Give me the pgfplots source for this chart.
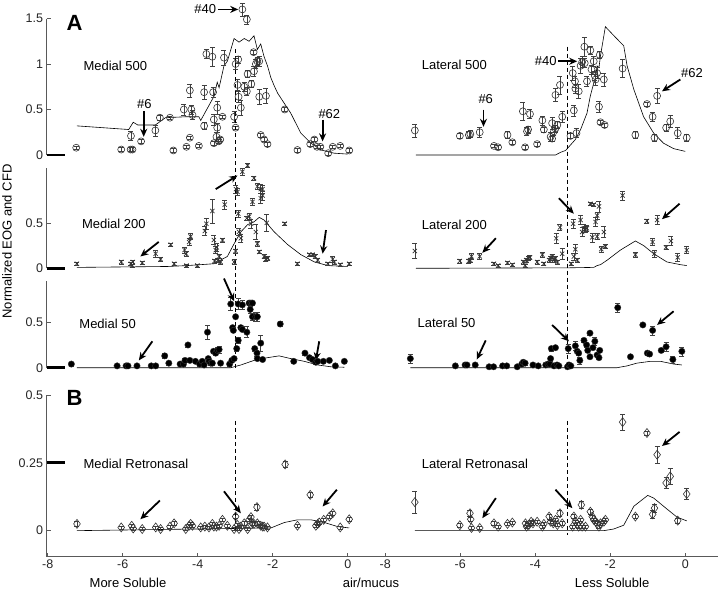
\documentclass[border=0pt]{standalone}
\usepackage{fontspec}
\setmainfont{Liberation Sans}
\usepackage{pgfplots}
\usepackage{pgfplotstable}
\pgfplotsset{compat=1.18}
\usetikzlibrary{arrows.meta}

% ---------- medial / lateral 500 ----------
\pgfplotstableread{
x y e
-7.24 0.08 0.02
-6.04 0.06 0.02
-5.79 0.06 0.02
-5.74 0.06 0.02
-5.78 0.21 0.05
-5.51 0.15 0.02
-5.13 0.27 0.06
-5.01 0.41 0.03
-4.74 0.41 0.02
-4.65 0.05 0.02
-4.37 0.50 0.06
-4.30 0.09 0.02
-4.21 0.71 0.07
-4.21 0.19 0.02
-4.17 0.50 0.05
-4.14 0.44 0.05
-3.97 0.10 0.02
-3.83 0.32 0.04
-3.83 0.69 0.08
-3.77 1.11 0.05
-3.61 1.08 0.10
-3.59 0.69 0.05
-3.57 0.39 0.06
-3.57 0.13 0.02
-3.50 0.20 0.05
-3.48 0.30 0.05
-3.48 0.52 0.07
-3.44 0.15 0.02
-3.40 0.17 0.02
-3.34 0.42 0.02
-3.30 1.07 0.08
-3.03 0.42 0.06
-2.99 0.30 0.02
-2.99 1.00 0.06
-2.92 1.05 0.04
-2.94 0.77 0.06
-2.91 0.64 0.06
-2.85 0.52 0.08
-2.81 1.60 0.07
-2.69 1.49 0.05
-2.76 0.75 0.05
-2.69 0.70 0.04
-2.67 0.89 0.04
-2.57 0.78 0.04
-2.51 1.13 0.02
-2.50 0.92 0.06
-2.45 1.00 0.05
-2.41 1.03 0.04
-2.36 1.03 0.05
-2.36 0.64 0.08
-2.32 0.22 0.02
-2.23 0.17 0.02
-2.14 0.12 0.02
-2.18 0.65 0.08
-1.68 0.50 0.02
-1.34 0.055 0.02
-1.00 0.12 0.02
-0.89 0.17 0.02
-0.82 0.09 0.02
-0.73 0.09 0.02
-0.52 0.02 0.02
-0.40 0.09 0.02
-0.20 0.10 0.02
0.04 0.05 0.02
}\ptsMa
\pgfplotstableread{
x y
-7.22 0.32
-5.84 0.28
-5.72 0.36
-5.60 0.33
-5.13 0.33
-4.86 0.41
-4.33 0.42
-3.97 0.42
-3.92 0.38
-3.56 0.65
-3.48 0.80
-3.43 0.74
-3.30 0.98
-3.21 1.03
-3.03 1.28
-2.90 1.24
-2.76 1.28
-2.63 1.25
-2.50 1.31
-2.41 1.16
-2.32 1.22
-2.23 1.08
-2.14 0.98
-2.05 0.85
-1.96 0.76
-1.87 0.68
-1.52 0.46
-1.25 0.24
-0.98 0.13
-0.71 0.055
-0.36 0.02
0.00 0.01
}\curMa
\pgfplotstableread{
x y e
-7.21 0.27 0.07
-6.01 0.21 0.03
-5.77 0.22 0.04
-5.73 0.23 0.04
-5.48 0.25 0.05
-5.10 0.10 0.02
-4.99 0.085 0.02
-4.74 0.22 0.04
-4.61 0.14 0.02
-4.33 0.48 0.10
-4.27 0.085 0.02
-4.22 0.26 0.04
-4.19 0.28 0.04
-4.14 0.45 0.05
-3.95 0.12 0.02
-3.81 0.38 0.05
-3.77 0.28 0.03
-3.59 0.20 0.05
-3.55 0.35 0.07
-3.55 0.18 0.03
-3.50 0.26 0.04
-3.46 0.29 0.04
-3.41 0.33 0.04
-3.46 0.66 0.07
-3.34 0.77 0.10
-3.28 0.42 0.06
-3.06 0.21 0.03
-3.00 0.90 0.08
-2.97 0.49 0.06
-2.94 0.81 0.06
-2.93 0.73 0.05
-2.90 0.24 0.05
-2.84 0.70 0.08
-2.79 0.98 0.08
-2.75 1.02 0.06
-2.69 1.19 0.10
-2.68 1.01 0.05
-2.62 0.81 0.05
-2.53 1.15 0.04
-2.50 0.94 0.05
-2.44 1.03 0.06
-2.41 0.87 0.05
-2.39 0.83 0.06
-2.35 0.90 0.06
-2.30 0.53 0.06
-2.28 1.10 0.04
-2.26 0.36 0.02
-2.15 0.33 0.02
-2.17 0.83 0.07
-1.67 0.95 0.10
-1.33 0.22 0.04
-1.02 0.56 0.02
-0.87 0.42 0.05
-0.82 0.19 0.04
-0.75 0.65 0.08
-0.51 0.30 0.04
-0.40 0.37 0.07
-0.20 0.24 0.06
0.04 0.19 0.04
}\ptsLa
\pgfplotstableread{
x y
-7.18 0
-3.46 0
-3.32 0.03
-3.19 0.05
-3.06 0.11
-2.93 0.17
-2.79 0.28
-2.62 0.46
-2.53 0.65
-2.44 0.79
-2.39 0.85
-2.35 0.98
-2.30 0.96
-2.26 1.09
-2.17 1.31
-2.13 1.41
-1.90 1.31
-1.64 1.20
-1.55 0.98
-1.37 0.72
-1.11 0.42
-0.84 0.24
-0.58 0.13
-0.31 0.07
0.00 0.04
}\curLa

% ---------- medial / lateral 200 ----------
\pgfplotstableread{
x y e
-7.22 0.05 0.02
-6.04 0.07 0.02
-5.78 0.05 0.02
-5.75 0.03 0.02
-5.73 0.07 0.02
-5.48 0.06 0.02
-5.12 0.16 0.04
-4.99 0.10 0.02
-4.72 0.26 0.02
-4.63 0.05 0.02
-4.35 0.20 0.03
-4.31 0.16 0.03
-4.30 0.03 0.02
-4.23 0.29 0.04
-4.19 0.35 0.03
-4.01 0.03 0.02
-3.81 0.41 0.05
-3.77 0.49 0.06
-3.61 0.63 0.13
-3.57 0.31 0.05
-3.55 0.08 0.02
-3.52 0.20 0.04
-3.49 0.23 0.04
-3.46 0.09 0.02
-3.43 0.13 0.02
-3.39 0.07 0.02
-3.34 0.31 0.02
-3.28 0.70 0.05
-3.03 0.07 0.03
-2.99 0.19 0.02
-2.98 0.87 0.04
-2.94 0.84 0.04
-2.92 0.60 0.04
-2.90 0.40 0.04
-2.85 0.33 0.04
-2.81 1.06 0.04
-2.67 1.13 0.02
-2.69 0.55 0.02
-2.63 0.57 0.04
-2.58 0.49 0.05
-2.54 0.73 0.04
-2.50 0.99 0.02
-2.45 0.40 0.08
-2.41 0.27 0.03
-2.36 0.18 0.02
-2.41 0.90 0.03
-2.32 0.87 0.05
-2.27 0.87 0.04
-2.27 0.80 0.05
-2.32 0.77 0.06
-2.23 0.13 0.02
-2.18 0.10 0.02
-2.13 0.11 0.02
-2.16 0.50 0.09
-1.68 0.49 0.02
-1.34 0.05 0.02
-1.02 0.15 0.02
-0.94 0.15 0.02
-0.87 0.13 0.02
-0.80 0.09 0.02
-0.53 0.05 0.02
-0.40 0.10 0.03
-0.36 0.07 0.02
-0.20 0.04 0.02
0.04 0.05 0.02
}\ptsMb
\pgfplotstableread{
x y
-7.22 0.01
-4.81 0.02
-4.28 0.03
-3.57 0.05
-3.21 0.13
-3.03 0.27
-2.85 0.40
-2.67 0.48
-2.50 0.51
-2.36 0.56
-2.23 0.53
-1.96 0.40
-1.60 0.26
-1.25 0.15
-0.89 0.07
-0.53 0.03
0.00 0.02
}\curMb
\pgfplotstableread{
x y e
-7.21 0.19 0.08
-6.01 0.08 0.02
-5.77 0.08 0.02
-5.73 0.09 0.02
-5.70 0.13 0.03
-5.48 0.13 0.03
-5.10 0.05 0.02
-4.99 0.03 0.02
-4.74 0.06 0.02
-4.61 0.04 0.02
-4.32 0.07 0.02
-4.27 0.03 0.02
-4.24 0.09 0.02
-4.18 0.11 0.02
-4.14 0.12 0.02
-3.95 0.07 0.02
-3.81 0.15 0.03
-3.77 0.05 0.02
-3.63 0.09 0.02
-3.59 0.11 0.02
-3.55 0.13 0.02
-3.50 0.09 0.02
-3.46 0.11 0.02
-3.41 0.07 0.02
-3.44 0.33 0.05
-3.34 0.45 0.03
-3.28 0.16 0.06
-3.04 0.05 0.02
-2.99 0.49 0.05
-2.97 0.13 0.04
-2.93 0.21 0.05
-2.88 0.09 0.02
-2.79 0.53 0.05
-2.75 0.40 0.05
-2.70 0.44 0.04
-2.66 0.43 0.03
-2.62 0.44 0.03
-2.53 0.71 0.02
-2.44 0.70 0.02
-2.39 0.51 0.05
-2.35 0.58 0.04
-2.30 0.68 0.06
-2.48 0.34 0.05
-2.35 0.35 0.03
-2.17 0.40 0.06
-2.24 0.21 0.03
-2.13 0.24 0.02
-1.67 0.80 0.05
-1.33 0.15 0.03
-1.02 0.52 0.02
-0.87 0.29 0.04
-0.82 0.16 0.04
-0.75 0.53 0.05
-0.51 0.23 0.02
-0.38 0.30 0.05
-0.20 0.12 0.04
0.04 0.20 0.04
}\ptsLb
\pgfplotstableread{
x y
-7.18 0
-3.15 0.005
-2.44 0.01
-2.35 0.03
-2.26 0.04
-2.08 0.09
-1.73 0.20
-1.33 0.30
-1.11 0.25
-0.84 0.16
-0.49 0.07
-0.13 0.04
0.04 0.03
}\curLb

% ---------- medial / lateral 50 ----------
\pgfplotstableread{
x y e
-7.37 0.04 0.02
-6.15 0.02 0.02
-5.91 0.02 0.02
-5.86 0.02 0.02
-5.62 0.02 0.02
-5.24 0.02 0.02
-5.12 0.02 0.02
-4.88 0.13 0.03
-4.77 0.05 0.02
-4.47 0.04 0.02
-4.38 0.04 0.02
-4.34 0.08 0.02
-4.26 0.25 0.02
-4.21 0.08 0.02
-4.06 0.07 0.02
-3.95 0.04 0.02
-3.88 0.07 0.02
-3.83 0.03 0.02
-3.74 0.39 0.08
-3.72 0.10 0.02
-3.70 0.07 0.02
-3.65 0.05 0.02
-3.61 0.05 0.02
-3.58 0.18 0.02
-3.52 0.16 0.02
-3.47 0.19 0.03
-3.43 0.20 0.04
-3.39 0.05 0.02
-3.15 0.04 0.02
-3.12 0.70 0.07
-3.09 0.08 0.02
-3.07 0.44 0.02
-3.05 0.41 0.02
-3.03 0.10 0.02
-2.99 0.56 0.02
-2.96 0.21 0.03
-2.92 0.30 0.03
-2.92 0.70 0.06
-2.85 0.44 0.02
-2.81 0.42 0.02
-2.81 0.69 0.05
-2.69 0.39 0.06
-2.63 0.71 0.02
-2.58 0.71 0.02
-2.54 0.71 0.02
-2.60 0.64 0.04
-2.54 0.56 0.04
-2.45 0.56 0.05
-2.41 0.56 0.05
-2.48 0.21 0.03
-2.42 0.16 0.03
-2.41 0.10 0.02
-2.32 0.27 0.09
-2.27 0.09 0.02
-1.80 0.48 0.03
-1.44 0.07 0.02
-1.14 0.16 0.02
-1.02 0.11 0.02
-0.94 0.09 0.02
-0.85 0.06 0.02
-0.80 0.07 0.02
-0.65 0.07 0.02
-0.49 0.08 0.02
-0.33 0.02 0.02
-0.09 0.07 0.02
}\ptsMc
\pgfplotstableread{
x y
-7.22 0
-3.12 0
-2.85 0.03
-2.50 0.08
-2.14 0.11
-1.83 0.13
-1.52 0.10
-1.16 0.07
-0.80 0.03
-0.45 0.01
-0.09 0.005
}\curMc
\pgfplotstableread{
x y e
-7.33 0.10 0.05
-6.13 0.02 0.02
-5.87 0.03 0.02
-5.82 0.03 0.02
-5.60 0.03 0.02
-5.23 0.01 0.02
-5.11 0.01 0.02
-4.87 0.02 0.02
-4.76 0.02 0.02
-4.48 0.01 0.02
-4.36 0.04 0.02
-4.32 0.06 0.02
-4.27 0.05 0.02
-4.06 0.03 0.02
-3.92 0.02 0.02
-3.72 0.03 0.02
-3.66 0.04 0.02
-3.61 0.04 0.02
-3.59 0.10 0.03
-3.57 0.21 0.03
-3.46 0.22 0.02
-3.50 0.02 0.02
-3.42 0.03 0.02
-3.37 0.02 0.02
-3.14 0.01 0.02
-3.10 0.03 0.02
-3.05 0.02 0.02
-3.12 0.21 0.05
-2.93 0.24 0.05
-2.88 0.18 0.02
-2.84 0.16 0.02
-2.81 0.08 0.04
-2.70 0.30 0.02
-2.63 0.25 0.02
-2.54 0.38 0.02
-2.60 0.19 0.02
-2.54 0.12 0.02
-2.46 0.22 0.02
-2.41 0.29 0.04
-2.35 0.14 0.02
-2.30 0.11 0.02
-2.28 0.19 0.02
-1.80 0.66 0.05
-1.46 0.12 0.02
-1.13 0.47 0.02
-1.01 0.16 0.02
-0.95 0.15 0.02
-0.87 0.41 0.05
-0.64 0.19 0.02
-0.51 0.23 0.05
-0.33 0.09 0.04
-0.09 0.18 0.05
}\ptsLc
\pgfplotstableread{
x y
-7.33 0
-1.82 0
-1.55 0.02
-1.29 0.05
-0.93 0.07
-0.66 0.07
-0.31 0.04
-0.09 0.03
}\curLc

% ---------- retronasal ----------
\pgfplotstableread{
x y e
-7.22 0.025 0.008
-6.04 0.012 0.006
-5.76 0.018 0.006
-5.72 0.008 0.006
-5.48 0.006 0.006
-5.12 0.012 0.006
-4.99 0.006 0.006
-4.74 0.015 0.006
-4.63 0.027 0.008
-4.32 0.006 0.006
-4.23 0.018 0.006
-4.19 0.025 0.006
-4.14 0.018 0.006
-3.92 0.012 0.006
-3.81 0.015 0.006
-3.70 0.012 0.006
-3.61 0.025 0.006
-3.57 0.015 0.006
-3.50 0.015 0.006
-3.43 0.018 0.006
-3.34 0.040 0.006
-3.21 0.018 0.006
-3.03 0.006 0.006
-2.99 0.052 0.008
-2.94 0.021 0.006
-2.90 0.006 0.006
-2.85 0.015 0.006
-2.76 0.027 0.006
-2.67 0.006 0.006
-2.63 0.040 0.006
-2.58 0.050 0.008
-2.54 0.027 0.006
-2.50 0.025 0.006
-2.42 0.087 0.010
-2.41 0.027 0.006
-2.32 0.018 0.006
-2.27 0.015 0.006
-2.23 0.015 0.006
-2.14 0.012 0.006
-1.67 0.244 0.010
-1.34 0.018 0.006
-1.00 0.132 0.008
-0.85 0.018 0.006
-0.80 0.025 0.006
-0.76 0.030 0.006
-0.64 0.040 0.006
-0.49 0.052 0.006
-0.40 0.064 0.008
-0.20 0.012 0.006
0.04 0.042 0.008
}\ptsMr
\pgfplotstableread{
x y
-7.22 0
-2.05 0.01
-1.69 0.03
-1.34 0.04
-0.98 0.04
-0.62 0.03
-0.27 0.015
0.04 0.01
}\curMr
\pgfplotstableread{
x y e
-7.21 0.105 0.040
-6.01 0.020 0.006
-5.74 0.064 0.012
-5.72 0.042 0.006
-5.70 0.010 0.006
-5.48 0.010 0.006
-5.10 0.027 0.006
-4.99 0.015 0.006
-4.74 0.025 0.006
-4.61 0.030 0.006
-4.26 0.027 0.006
-4.23 0.015 0.006
-4.17 0.021 0.006
-4.11 0.033 0.006
-4.06 0.027 0.006
-3.95 0.033 0.006
-3.81 0.015 0.006
-3.77 0.025 0.006
-3.63 0.052 0.010
-3.59 0.033 0.006
-3.52 0.027 0.006
-3.46 0.040 0.006
-3.41 0.021 0.006
-3.34 0.064 0.010
-3.28 0.027 0.006
-3.00 0.015 0.006
-2.97 0.052 0.008
-2.93 0.033 0.006
-2.88 0.025 0.006
-2.84 0.015 0.006
-2.79 0.040 0.006
-2.77 0.095 0.012
-2.75 0.015 0.006
-2.66 0.015 0.006
-2.53 0.070 0.010
-2.48 0.052 0.006
-2.44 0.040 0.006
-2.39 0.033 0.006
-2.35 0.027 0.006
-2.30 0.015 0.006
-2.26 0.027 0.006
-2.17 0.033 0.006
-2.13 0.040 0.006
-1.67 0.400 0.030
-1.33 0.052 0.008
-1.02 0.360 0.008
-0.87 0.060 0.015
-0.82 0.083 0.015
-0.75 0.280 0.030
-0.51 0.176 0.020
-0.40 0.200 0.030
-0.20 0.037 0.008
0.04 0.135 0.020
}\ptsLr
\pgfplotstableread{
x y
-7.21 0
-2.17 0
-1.91 0.006
-1.64 0.02
-1.37 0.09
-1.00 0.13
-0.84 0.12
-0.49 0.08
-0.22 0.05
0.04 0.036
}\curLr

\newcommand\lbl{\fontsize{13}{15}\selectfont}
\pgfplotsset{
  row/.style={scale only axis, width=671.25pt, xmin=-8.03, xmax=9.87, clip=false,
    axis line style={black!65, line width=0.6pt},
    tick align=inside, major tick length=4pt,
    major tick style={black!65, line width=0.6pt},
    tick label style={font=\fontsize{12.5}{14}\selectfont, text=black!85},
    /pgf/number format/assume math mode=true,
    extra y tick style={major tick length=18pt, major tick style={line width=2.8pt, black}}},
  toprow/.style={row, axis x line=none, axis y line*=left},
  curve/.style={black, line width=0.6pt, no marks},
  pts/.style={only marks, black!80,
    error bars/y dir=both, error bars/y explicit,
    error bars/error bar style={line width=0.5pt, black!75},
    error bars/error mark options={rotate=90, mark size=2.5pt, line width=0.5pt, black!75}},
}
\tikzset{
  arr/.style={-{Stealth[length=8pt,width=7pt]}, line width=1.8pt, black},
  dsh/.style={line width=1pt, dash pattern=on 4pt off 3pt},
}

\begin{document}
\begin{tikzpicture}
\useasboundingbox (0,0) rectangle (720pt,590pt);

% ===== row 1: 500 =====
\begin{axis}[toprow, at={(46.6pt,435pt)}, anchor=south west, height=136.5pt,
  ymin=0, ymax=1.5, ytick={0.5,1,1.5}, extra y ticks={0}]
\addplot[curve] table[x=x,y=y] {\curMa};
\addplot[curve] table[x expr=\thisrow{x}+9,y=y] {\curLa};
\addplot[pts, mark=o, mark size=3.5pt, mark options={line width=0.6pt}] table[x=x, y=y, y error=e] {\ptsMa};
\addplot[pts, mark=o, mark size=3.5pt, mark options={line width=0.6pt}] table[x expr=\thisrow{x}+9, y=y, y error=e] {\ptsLa};
\draw[dsh] (axis cs:-3,1.16) -- (axis cs:-3,-2.36);
\draw[dsh] (axis cs:5.85,1.19) -- (axis cs:5.85,-2.36);
\node[anchor=west, font=\bfseries\fontsize{22}{24}\selectfont, inner sep=0pt] at (axis cs:-7.5,1.45) {A};
\node[anchor=west, font=\lbl, inner sep=0pt] at (axis cs:-7.05,0.98) {Medial 500};
\node[anchor=west, font=\lbl, inner sep=0pt] at (axis cs:1.97,0.99) {Lateral 500};
\node[anchor=east, font=\lbl, inner sep=1pt] at (axis cs:-3.48,1.6) {\#40};
\draw[arr] (axis cs:-3.46,1.6) -- (axis cs:-2.92,1.6);
\node[font=\lbl] at (axis cs:-5.42,0.56) {\#6};
\draw[arr] (axis cs:-5.44,0.48) -- (axis cs:-5.44,0.20);
\node[font=\lbl] at (axis cs:-0.49,0.45) {\#62};
\draw[arr] (axis cs:-0.67,0.39) -- (axis cs:-0.67,0.15);
\node[anchor=east, font=\lbl, inner sep=1pt] at (axis cs:5.6,1.03) {\#40};
\draw[arr] (axis cs:5.62,1.03) -- (axis cs:6.12,1.03);
\node[font=\lbl] at (axis cs:3.68,0.62) {\#6};
\draw[arr] (axis cs:3.62,0.50) -- (axis cs:3.62,0.31);
\node[font=\lbl] at (axis cs:9.18,0.90) {\#62};
\draw[arr] (axis cs:8.87,0.83) -- (axis cs:8.38,0.70);
\end{axis}

% ===== row 2: 200 =====
\begin{axis}[toprow, at={(46.6pt,321.7pt)}, anchor=south west, height=100.1pt,
  ymin=0, ymax=1.1, ytick={0.5}, extra y ticks={0}]
\addplot[curve] table[x=x,y=y] {\curMb};
\addplot[curve] table[x expr=\thisrow{x}+9,y=y] {\curLb};
\addplot[pts, mark=x, mark size=3pt, mark options={line width=0.7pt}] table[x=x, y=y, y error=e] {\ptsMb};
\addplot[pts, mark=x, mark size=3pt, mark options={line width=0.7pt}] table[x expr=\thisrow{x}+9, y=y, y error=e] {\ptsLb};
\node[anchor=west, font=\lbl, inner sep=0pt] at (axis cs:-7.09,0.49) {Medial 200};
\node[anchor=west, font=\lbl, inner sep=0pt] at (axis cs:1.97,0.48) {Lateral 200};
\draw[arr] (axis cs:-5.04,0.29) -- (axis cs:-5.53,0.13);
\draw[arr] (axis cs:-3.52,0.87) -- (axis cs:-2.94,1.02);
\draw[arr] (axis cs:-0.58,0.42) -- (axis cs:-0.67,0.16);
\draw[arr] (axis cs:3.95,0.33) -- (axis cs:3.59,0.17);
\draw[arr] (axis cs:5.63,0.77) -- (axis cs:6.03,0.60);
\draw[arr] (axis cs:8.85,0.71) -- (axis cs:8.38,0.54);
\end{axis}

% ===== row 3: 50 =====
\begin{axis}[toprow, at={(46.6pt,222.3pt)}, anchor=south west, height=86.45pt,
  ymin=0, ymax=0.95, ytick={0.5}, extra y ticks={0}]
\addplot[curve] table[x=x,y=y] {\curMc};
\addplot[curve] table[x expr=\thisrow{x}+9,y=y] {\curLc};
\addplot[pts, mark=*, mark size=3.2pt, mark options={fill=black}] table[x=x, y=y, y error=e] {\ptsMc};
\addplot[pts, mark=*, mark size=3.2pt, mark options={fill=black}] table[x expr=\thisrow{x}+9, y=y, y error=e] {\ptsLc};
\node[anchor=west, font=\lbl, inner sep=0pt] at (axis cs:-7.16,0.48) {Medial 50};
\node[anchor=west, font=\lbl, inner sep=0pt] at (axis cs:1.86,0.49) {Lateral 50};
\draw[arr] (axis cs:-5.21,0.29) -- (axis cs:-5.57,0.08);
\draw[arr] (axis cs:-3.30,0.98) -- (axis cs:-3.03,0.73);
\draw[arr] (axis cs:-0.76,0.29) -- (axis cs:-0.85,0.08);
\draw[arr] (axis cs:3.68,0.30) -- (axis cs:3.44,0.09);
\draw[arr] (axis cs:5.45,0.47) -- (axis cs:5.90,0.29);
\draw[arr] (axis cs:8.69,0.62) -- (axis cs:8.25,0.47);
\end{axis}

% ===== row 4: retronasal =====
\begin{axis}[row, at={(46.6pt,33.3pt)}, anchor=south west, height=161.7pt,
  axis x line*=bottom, axis y line*=left,
  ymin=-0.096, ymax=0.5, ytick={0,0.5}, extra y ticks={0.25},
  extra y tick labels={0.25},
  xtick={-8,-6,-4,-2,0,1,3,5,7,9},
  xticklabels={-8,-6,-4,-2,0,-8,-6,-4,-2,0}]
\addplot[curve] table[x=x,y=y] {\curMr};
\addplot[curve] table[x expr=\thisrow{x}+9,y=y] {\curLr};
\addplot[pts, mark=diamond, mark size=4.5pt, mark options={line width=0.6pt}] table[x=x, y=y, y error=e] {\ptsMr};
\addplot[pts, mark=diamond, mark size=4.5pt, mark options={line width=0.6pt}] table[x expr=\thisrow{x}+9, y=y, y error=e] {\ptsLr};
\draw[dsh] (axis cs:-3,0.405) -- (axis cs:-3,0);
\draw[dsh] (axis cs:5.85,0.405) -- (axis cs:5.85,-0.015);
\node[anchor=west, font=\bfseries\fontsize{22}{24}\selectfont, inner sep=0pt] at (axis cs:-7.5,0.489) {B};
\node[anchor=west, font=\lbl, inner sep=0pt] at (axis cs:-7.05,0.248) {Medial Retronasal};
\node[anchor=west, font=\lbl, inner sep=0pt] at (axis cs:1.97,0.248) {Lateral Retronasal};
\draw[arr] (axis cs:-5.01,0.111) -- (axis cs:-5.53,0.042);
\draw[arr] (axis cs:-3.30,0.145) -- (axis cs:-2.85,0.064);
\draw[arr] (axis cs:-0.29,0.151) -- (axis cs:-0.67,0.089);
\draw[arr] (axis cs:3.95,0.12) -- (axis cs:3.59,0.046);
\draw[arr] (axis cs:5.54,0.151) -- (axis cs:5.99,0.083);
\draw[arr] (axis cs:8.85,0.364) -- (axis cs:8.38,0.312);
\node[font=\lbl] at (axis cs:-5.86,-0.193) {More Soluble};
\node[font=\lbl] at (axis cs:0.62,-0.193) {air/mucus};
\node[font=\lbl] at (axis cs:7.05,-0.193) {Less Soluble};
\end{axis}

\node[rotate=90, font=\lbl] at (7pt,348.5pt) {Normalized EOG and CFD};
\end{tikzpicture}
\end{document}
